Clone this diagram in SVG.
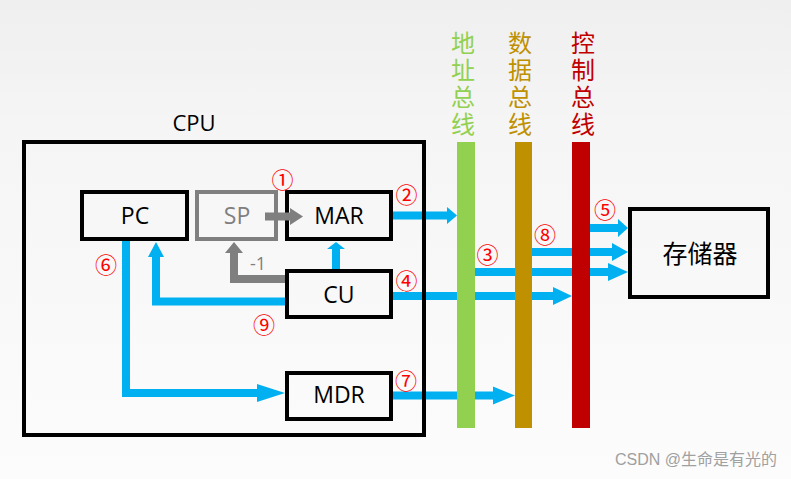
<svg xmlns="http://www.w3.org/2000/svg" width="791" height="479" viewBox="0 0 791 479">
  <defs>
    <linearGradient id="bg" x1="0" y1="0" x2="0" y2="1">
      <stop offset="0" stop-color="#efefef"/>
      <stop offset="0.25" stop-color="#f5f5f5"/>
      <stop offset="1" stop-color="#fcfcfc"/>
    </linearGradient>
    <style>
      .box { fill: none; stroke: #000; stroke-width: 4; }
      .gbox { fill: none; stroke: #7f7f7f; stroke-width: 4; }
      .lbl { font-family: "Open Sans", "Noto Sans", sans-serif; font-size: 23px; fill: #000; text-anchor: middle; }
      .blue { fill: #00b0f0; }
      .gray { fill: #7f7f7f; }
      .num { font-family: "Noto Sans CJK SC", "DejaVu Sans", sans-serif; font-size: 22px; fill: #ff0000; text-anchor: middle; dominant-baseline: central; }
      .bus { font-family: "Noto Sans CJK SC", sans-serif; font-size: 24px; writing-mode: vertical-rl; letter-spacing: 3px; }
    </style>
  </defs>
  <rect width="791" height="479" fill="url(#bg)"/>

  <g id="connectors">
    <path class="blue" d="M393,211.5 H447 V207 L457,215.5 L447,224 V219.5 H393 Z"/>
    <path class="blue" d="M393,292 H553 V287 L572,296 L553,305 V300 H393 Z"/>
    <path class="blue" d="M475,268 H608 V263 L628,272 L608,281 V276 H475 Z"/>
    <path class="blue" d="M532,248 H612 V243 L628,252 L612,261 V256 H532 Z"/>
    <path class="blue" d="M590,224 H618 V219 L628,228 L618,237 V232 H590 Z"/>
    <path class="blue" d="M393,391.5 H493 V386.5 L515,395.5 L493,404.5 V399.5 H393 Z"/>
    <path class="blue" d="M122,241 H130 V389 H257 V384 L285,393 L257,402 V397 H122 Z"/>
    <path class="blue" d="M285,297.5 H160 V257 H164 L156,242 L148,257 H152 V305.5 H285 Z"/>
    <path class="blue" d="M332,269 V249 H327 L336,242 L345,249 H340 V269 Z"/>
    <path class="gray" d="M285,275 H238 V253 H243 L234,242 L225,253 H230 V283 H285 Z"/>
  </g>

  <g id="address-bus">
    <rect x="457" y="142" width="18" height="286" fill="#92d050"/>
    <text class="bus" x="463" y="31" fill="#92d050">地址总线</text>
  </g>
  <g id="data-bus">
    <rect x="515" y="142" width="17" height="286" fill="#bf9000"/>
    <text class="bus" x="520" y="31" fill="#bf9000">数据总线</text>
  </g>
  <g id="control-bus">
    <rect x="572" y="142" width="18" height="286" fill="#c00000"/>
    <text class="bus" x="583" y="31" fill="#c00000">控制总线</text>
  </g>

  <g id="cpu">
    <rect class="box" x="24" y="142" width="400" height="293"/>
    <text class="lbl" x="194" y="131" style="font-size:22px">CPU</text>
  </g>
  <g id="pc">
    <rect class="box" x="82" y="192" width="105" height="47"/>
    <text class="lbl" x="135" y="224">PC</text>
  </g>
  <g id="sp">
    <rect class="gbox" x="197" y="192" width="79" height="47"/>
    <text class="lbl" x="237" y="224" style="fill:#7f7f7f">SP</text>
  </g>
  <g id="mar">
    <rect class="box" x="287" y="192" width="104" height="47"/>
    <text class="lbl" x="339" y="224">MAR</text>
  </g>
  <g id="sp-to-mar">
    <path class="gray" d="M265,212.5 H290 V208 L303,216.5 L290,225 V220.5 H265 Z"/>
  </g>
  <g id="cu">
    <rect class="box" x="287" y="271" width="104" height="46"/>
    <text class="lbl" x="339" y="303">CU</text>
  </g>
  <g id="mdr">
    <rect class="box" x="287" y="373" width="104" height="46"/>
    <text class="lbl" x="339" y="403">MDR</text>
  </g>
  <g id="memory">
    <rect class="box" x="630" y="209" width="138" height="88"/>
    <text x="700" y="263" font-family="Noto Sans CJK SC, sans-serif" font-size="25" text-anchor="middle" fill="#000">存储器</text>
  </g>

  <text x="258" y="270" font-family="Open Sans, sans-serif" font-size="18" fill="#7f7f7f" text-anchor="middle">-1</text>

  <g id="labels">
    <text class="num" x="282.5" y="177.5">①</text>
    <text class="num" x="406.5" y="192.5">②</text>
    <text class="num" x="487.5" y="252.5">③</text>
    <text class="num" x="406.5" y="279">④</text>
    <text class="num" x="605" y="207.5">⑤</text>
    <text class="num" x="106" y="262.5">⑥</text>
    <text class="num" x="406" y="378.5">⑦</text>
    <text class="num" x="545" y="232.5">⑧</text>
    <text class="num" x="264" y="322.5">⑨</text>
  </g>

  <text x="777" y="465" font-family="Liberation Sans, Noto Sans CJK SC, sans-serif" font-size="16" fill="#a0a0a0" text-anchor="end">CSDN @生命是有光的</text>
</svg>
